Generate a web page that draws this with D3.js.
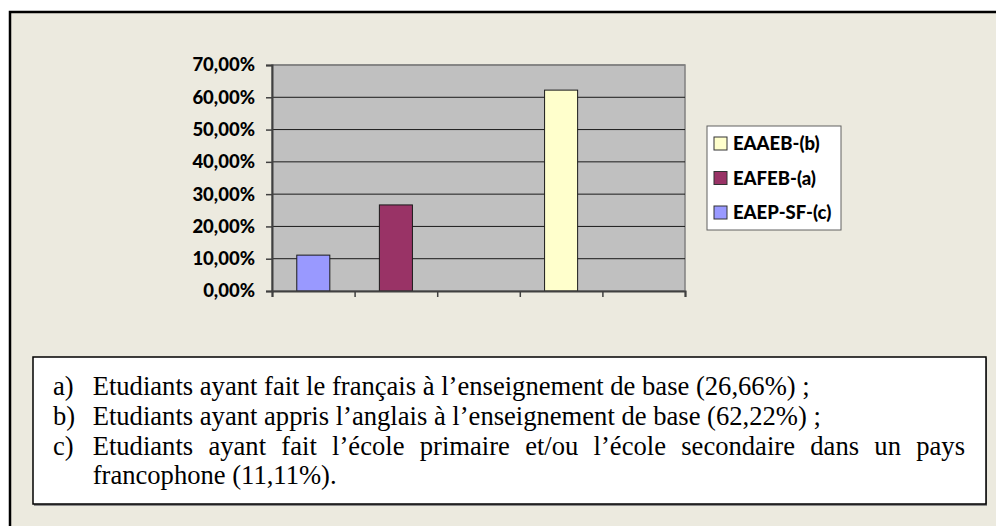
<!DOCTYPE html>
<html>
<head>
<meta charset="utf-8">
<script src="https://cdn.jsdelivr.net/npm/d3@7"></script>
<style>
  html, body { margin: 0; padding: 0; background: #ffffff; }
  svg { display: block; }
</style>
</head>
<body>
<div id="chart"></div>
<script>
// Chart data
const categorySlots = [0, 1, 2, 3, 4];
const categoryValues = [11.11, 26.66, null, 62.22, null];
const categorySeries = ["EAEP-SF-(c)", "EAFEB-(a)", null, "EAAEB-(b)", null];
const legendNames = ["EAAEB-(b)", "EAFEB-(a)", "EAEP-SF-(c)"];
const legendColors = ["#FFFFCC", "#993366", "#9999FF"];
const yTicks = [0, 10, 20, 30, 40, 50, 60, 70];

// Notes under the chart
const noteMarkers = ["a)", "b)", "c)", ""];
const noteLines = [
    "Etudiants ayant fait le français à l’enseignement de base (26,66%) ;",
    "Etudiants ayant appris l’anglais à l’enseignement de base (62,22%) ;",
    "Etudiants ayant fait l’école primaire et/ou l’école secondaire dans un pays",
    "francophone (11,11%)."
];

const W = 996, H = 526;
const plot = { left: 272, right: 685, top: 65, bottom: 291 };

const svg = d3.select('#chart').append('svg')
    .attr('width', W)
    .attr('height', H);

// page background + outer frame
svg.append('rect')
    .attr('x', 10).attr('y', 12)
    .attr('width', 1000).attr('height', 600)
    .attr('fill', '#ECEADF')
    .attr('stroke', '#000')
    .attr('stroke-width', 2.5);

const color = d3.scaleOrdinal().domain(legendNames).range(legendColors);

const x = d3.scaleBand()
    .domain(categorySlots)
    .range([plot.left, plot.right])
    .paddingInner(0.6)
    .paddingOuter(0.3);

const xEdges = d3.scaleLinear()
    .domain([0, categorySlots.length])
    .range([plot.left, plot.right]);

const y = d3.scaleLinear()
    .domain([0, 70])
    .range([plot.bottom, plot.top]);

// plot area
svg.append('rect')
    .attr('x', plot.left).attr('y', plot.top)
    .attr('width', plot.right - plot.left)
    .attr('height', plot.bottom - plot.top)
    .attr('fill', '#C0C0C0')
    .attr('stroke', '#808080')
    .attr('stroke-width', 1.5);

// gridlines
svg.append('g')
    .selectAll('line')
    .data(yTicks.slice(1))
    .join('line')
    .attr('x1', plot.left).attr('x2', plot.right)
    .attr('y1', d => y(d)).attr('y2', d => y(d))
    .attr('stroke', d => d === 70 ? '#808080' : '#1a1a1a')
    .attr('stroke-width', d => d === 70 ? 1.5 : 1);

// bars
svg.append('g')
    .selectAll('rect')
    .data(categorySlots.filter(i => categoryValues[i] != null))
    .join('rect')
    .attr('x', i => x(i))
    .attr('y', i => y(categoryValues[i]))
    .attr('width', x.bandwidth())
    .attr('height', i => y(0) - y(categoryValues[i]))
    .attr('fill', i => color(categorySeries[i]))
    .attr('stroke', '#1a1a1a')
    .attr('stroke-width', 1);

// y axis
const yAxis = svg.append('g')
    .attr('transform', `translate(${plot.left},0)`)
    .call(d3.axisLeft(y)
        .tickValues(yTicks)
        .tickSize(6)
        .tickPadding(11)
        .tickFormat(d => d.toFixed(2).replace('.', ',') + '%'));
yAxis.select('.domain').attr('stroke', '#404040').attr('stroke-width', 2);
yAxis.selectAll('.tick line').attr('stroke', '#404040').attr('stroke-width', 1.5);
yAxis.selectAll('text')
    .style('font-family', 'Lato, sans-serif')
    .style('font-weight', '900')
    .style('font-size', '18.5px')
    .attr('fill', '#000');

// x axis (category separators only)
const xAxis = svg.append('g')
    .attr('transform', `translate(0,${plot.bottom})`)
    .call(d3.axisBottom(xEdges)
        .tickValues(d3.range(categorySlots.length + 1))
        .tickSize(6)
        .tickFormat(''));
xAxis.select('.domain').attr('stroke', '#404040').attr('stroke-width', 2);
xAxis.selectAll('.tick line').attr('stroke', '#404040').attr('stroke-width', 1.5);

// legend
const legend = svg.append('g');
legend.append('rect')
    .attr('x', 707).attr('y', 126)
    .attr('width', 134).attr('height', 104)
    .attr('fill', '#fff')
    .attr('stroke', '#606060')
    .attr('stroke-width', 1);

const legendItem = legend.selectAll('g.item')
    .data(legendNames)
    .join('g')
    .attr('class', 'item')
    .attr('transform', (d, i) => `translate(714,${143.5 + i * 34.5})`);

legendItem.append('rect')
    .attr('x', 0).attr('y', -6.5)
    .attr('width', 13).attr('height', 13)
    .attr('fill', d => color(d))
    .attr('stroke', '#333')
    .attr('stroke-width', 1);

legendItem.append('text')
    .attr('x', 19)
    .attr('dy', '0.36em')
    .style('font-family', 'Lato, sans-serif')
    .style('font-weight', '900')
    .style('font-size', '18.5px')
    .text(d => d);

// notes box
svg.append('rect')
    .attr('x', 34).attr('y', 358)
    .attr('width', 953).attr('height', 148)
    .attr('fill', '#8a8a8a');
svg.append('rect')
    .attr('x', 33).attr('y', 357)
    .attr('width', 953).attr('height', 147)
    .attr('fill', '#fff')
    .attr('stroke', '#000')
    .attr('stroke-width', 1.5);

const noteFont = "'Liberation Serif', 'Times New Roman', serif";
const baselines = [395, 425, 455, 484];
const bodyX = 92.7, markerX = 53;

// font size picked so the first line ends where it does in the scan
const probe = svg.append('text')
    .style('font-family', noteFont).style('font-size', '20px')
    .text(noteLines[0]);
const noteSize = 20 * (810 - bodyX) / probe.node().getComputedTextLength();
probe.remove();

const notes = svg.append('g')
    .style('font-family', noteFont)
    .style('font-size', noteSize + 'px');
noteLines.forEach((line, i) => {
    if (noteMarkers[i]) {
        notes.append('text')
            .attr('x', markerX).attr('y', baselines[i])
            .text(noteMarkers[i]);
    }
    const t = notes.append('text')
        .attr('x', bodyX).attr('y', baselines[i])
        .text(line);
    if (i === 2) {
        // justified line
        const natural = t.node().getComputedTextLength();
        const gaps = line.split(' ').length - 1;
        const extra = ((965 - bodyX) - natural) / gaps;
        t.style('word-spacing', extra + 'px');
    }
});
</script>
</body>
</html>
